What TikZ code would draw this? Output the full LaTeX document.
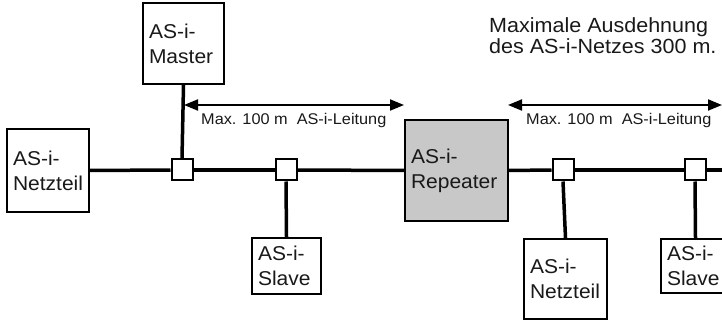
\documentclass[tikz,border=0pt]{standalone}
\usepackage{fontspec}
\setmainfont{Liberation Sans}[FakeStretch=1.05]
\usetikzlibrary{arrows.meta}
\definecolor{repgray}{RGB}{200,200,200}
\tikzset{
  box/.style={draw=black, line width=2pt, align=left, inner xsep=6pt, inner ysep=0pt,
    font=\fontsize{20}{25}\selectfont, text=black!90},
  junc/.style={draw=black, fill=white, line width=2pt, minimum width=21pt, minimum height=21pt, inner sep=0pt},
  bus/.style={line width=3.5pt, black},
  dim/.style={line width=2pt, {Triangle[length=14pt,width=11pt]}-{Triangle[length=14pt,width=11pt]}},
  lbl/.style={anchor=base west, inner sep=0pt, font=\fontsize{15.5}{17}\selectfont, text=black!90},
  ttl/.style={anchor=base west, inner sep=0pt, align=left, font=\fontsize{20.5}{21}\selectfont, text=black!90}
}
\begin{document}
\begin{tikzpicture}[x=1pt,y=-1pt]
\useasboundingbox (0,0) rectangle (722,320);
\clip (0,0) rectangle (722,320);
\coordinate (busend) at (740,170);
\coordinate (a1l) at (184,105);
\coordinate (a1r) at (404,105);
\coordinate (a2l) at (508,105);
\coordinate (a2r) at (722,105);
\node[box, text width=70pt, minimum height=83pt] (nt1) at (48,170.5) {AS-i-\\Netzteil};
\node[box, text width=69pt, minimum height=81pt] (master) at (183.5,43.5) {AS-i-\\Master};
\node[box, text width=57pt, minimum height=56pt] (slave1) at (286.5,266) {AS-i-\\Slave};
\node[box, fill=repgray, text width=91pt, minimum height=101pt] (rep) at (456.5,170.5) {AS-i-\\Repeater};
\node[box, text width=71pt, minimum height=80pt] (nt2) at (565.5,279) {AS-i-\\Netzteil};
\node[box, text width=57pt, minimum height=54pt] (slave2) at (695.5,266) {AS-i-\\Slave};
\node[junc] (j1) at (182,170) {};
\node[junc] (j2) at (286,170) {};
\node[junc] (j3) at (563,170) {};
\node[junc] (j4) at (695,170) {};
\draw[bus] (nt1.east) -- (j1.west);
\draw[bus] (j1.east) -- (j2.west);
\draw[bus] (j2.east) -- (rep.west);
\draw[bus] (rep.east) -- (j3.west);
\draw[bus] (j3.east) -- (j4.west);
\draw[bus] (j4.east) -- (busend);
\draw[bus] (master.south) -- (j1.north);
\draw[bus] (j2.south) -- (slave1.north);
\draw[bus] (j3.south) -- (nt2.north);
\draw[bus] (j4.south) -- (slave2.north);
\draw[dim] (a1l) -- (a1r);
\draw[dim] (a2l) -- (a2r);
\node[lbl] (l1) at (201,125) {Max. 100 m~~AS-i-Leitung};
\node[lbl] (l2) at (526,125) {Max. 100 m~~AS-i-Leitung};
\node[ttl] (title) at (489,54) {Maximale Ausdehnung\\des AS-i-Netzes 300 m.};
\end{tikzpicture}
\end{document}
